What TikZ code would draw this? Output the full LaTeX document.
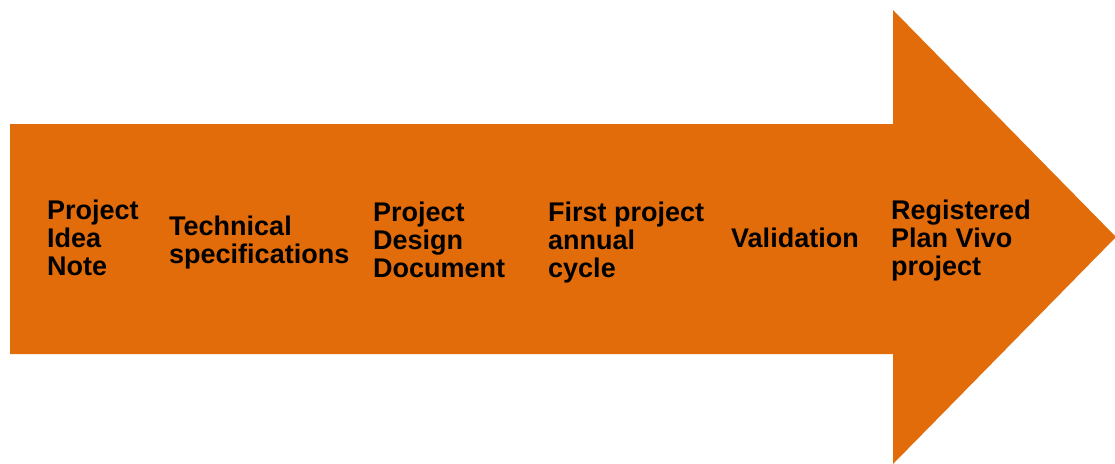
\documentclass[tikz,border=0pt]{standalone}
\usepackage{fontspec}
\setmainfont{Liberation Sans}
\usepackage{tikz}
\definecolor{stageorange}{HTML}{E36C0A}

\begin{document}
\begin{tikzpicture}[x=1pt,y=-1pt,
stage/.style={anchor=west, inner sep=0pt, align=left, text=black,
  font=\fontsize{27}{28}\selectfont\bfseries}]
\useasboundingbox (0,0) rectangle (1115,463);
% the big arrow
\fill[stageorange] (10,124) -- (893,124) -- (893,10) -- (1116,237)
  -- (893,464) -- (893,354) -- (10,354) -- cycle;
% stages
\node[stage] (pin) at (47,238) {Project\\Idea\\Note};
\node[stage] (tech) at (169,243) {Technical\\specifications};
\node[stage] (pdd) at (373,240) {Project\\Design\\Document};
\node[stage] (cycle) at (548,243) {First project\\annual\\cycle};
\node[stage] (valid) at (731,238) {Validation};
\node[stage] (reg) at (891,241) {Registered\\Plan Vivo\\project};
\end{tikzpicture}
\end{document}
